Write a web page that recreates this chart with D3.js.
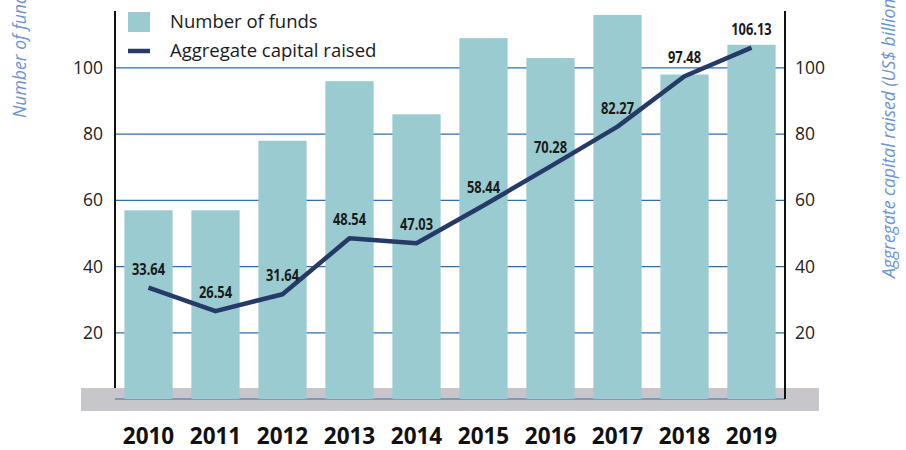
<!DOCTYPE html>
<html><head><meta charset="utf-8">
<script src="https://cdn.jsdelivr.net/npm/d3@7"></script>
<style>
body{margin:0;background:#fff;}
svg{display:block;}
text{font-family:"Open Sans",sans-serif;}
</style></head>
<body><svg id="c" width="906" height="450"></svg>
<script>
const years = ["2010","2011","2012","2013","2014","2015","2016","2017","2018","2019"];
const numberOfFunds = [57,57,78,96,86,109,103,116,98,107];
const capitalRaised = [33.64,26.54,31.64,48.54,47.03,58.44,70.28,82.27,97.48,106.13];
const tickValues = [20,40,60,80,100];

const svg = d3.select("#c");
const pL = 115, pR = 785, pT = 11, base = 399;

const x = d3.scaleBand().domain(years).range([pL,pR]).paddingInner(0.28).paddingOuter(0.14);
const yL = d3.scaleLinear().domain([0,117.2]).range([base,pT]);
const yR = d3.scaleLinear().domain([0,117.2]).range([base,pT]);
const cx = i => x(years[i]) + x.bandwidth()/2;

function condense(sel, f){
  sel.each(function(){
    const w = this.getComputedTextLength();
    d3.select(this).attr("textLength", w*f).attr("lengthAdjust","spacingAndGlyphs");
  });
}

// gray band
svg.append("rect").attr("x",81).attr("y",388).attr("width",738).attr("height",23).attr("fill","#c8c6ca");

// gridlines
svg.append("g").selectAll("line").data([0].concat(tickValues)).join("line")
  .attr("x1",pL).attr("x2",pR).attr("y1",d=>yL(d)).attr("y2",d=>yL(d))
  .attr("stroke","#2f6eab").attr("stroke-width",1.2);

// bars
svg.append("g").selectAll("rect").data(years).join("rect")
  .attr("x",d=>x(d)).attr("width",x.bandwidth())
  .attr("y",(d,i)=>yL(numberOfFunds[i])).attr("height",(d,i)=>base-yL(numberOfFunds[i]))
  .attr("fill","#99cbd0");

// axes lines
svg.append("line").attr("x1",pL).attr("x2",pL).attr("y1",pT).attr("y2",388).attr("stroke","#111").attr("stroke-width",2);
svg.append("line").attr("x1",pR).attr("x2",pR).attr("y1",pT).attr("y2",base).attr("stroke","#111").attr("stroke-width",2);

// left / right ticks
const axL = d3.axisLeft(yL).tickValues(tickValues).tickSize(0).tickPadding(12);
const gL = svg.append("g").attr("transform",`translate(${pL},0)`).call(axL);
gL.select(".domain").remove();
gL.selectAll("text").attr("font-size",17.5).attr("fill","#222").style("font-family","'Open Sans',sans-serif");

const axR = d3.axisRight(yR).tickValues(tickValues).tickSize(0).tickPadding(10);
const gR = svg.append("g").attr("transform",`translate(${pR},0)`).call(axR);
gR.select(".domain").remove();
gR.selectAll("text").attr("font-size",17.5).attr("fill","#222").style("font-family","'Open Sans',sans-serif");

// x labels
const axX = d3.axisBottom(x).tickSize(0).tickPadding(0);
const gX = svg.append("g").attr("transform","translate(0,444)").call(axX);
gX.select(".domain").remove();
gX.selectAll(".tick text").attr("font-size",22.5).attr("font-weight","bold").attr("fill","#111")
  .attr("y",0).attr("dy",0).style("font-family","'Open Sans',sans-serif");

// line
const line = d3.line().x((d,i)=>cx(i)).y(d=>yR(d));
svg.append("path").datum(capitalRaised).attr("d",line).attr("fill","none")
  .attr("stroke","#253a66").attr("stroke-width",4.5).attr("stroke-linejoin","round");

// value labels
const vl = svg.append("g").selectAll("text").data(capitalRaised).join("text")
  .attr("x",(d,i)=>cx(i)).attr("y",d=>yR(d)-13)
  .attr("text-anchor","middle").attr("font-size",16.5).attr("font-weight","bold").attr("fill","#1a1a1a")
  .text(d=>d.toFixed(2));
condense(vl, 0.78);

// legend
svg.append("rect").attr("x",128).attr("y",12).attr("width",22).attr("height",20).attr("fill","#99cbd0");
svg.append("line").attr("x1",128).attr("x2",150).attr("y1",51).attr("y2",51).attr("stroke","#253a66").attr("stroke-width",4.5);
svg.append("text").attr("x",170).attr("y",28).attr("font-size",18.5).attr("fill","#1a1a1a").text("Number of funds");
svg.append("text").attr("x",170).attr("y",57).attr("font-size",18.5).attr("fill","#1a1a1a").text("Aggregate capital raised");

// axis titles
const t1 = svg.append("text").attr("transform","translate(26,118) rotate(-90)").attr("font-size",18.5)
  .attr("font-style","italic").attr("fill","#6b93d2").text("Number of funds");
condense(t1, 0.95);
const t2 = svg.append("text").attr("transform","translate(895,278) rotate(-90)").attr("font-size",18.5)
  .attr("font-style","italic").attr("fill","#6b93d2").text("Aggregate capital raised (US$ billion)");
condense(t2, 0.95);
</script></body></html>
